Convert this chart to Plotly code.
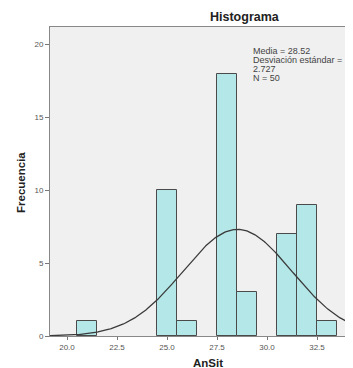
import numpy as np
import plotly.graph_objects as go

# Data
bin_centers = [21, 25, 26, 28, 29, 31, 32, 33]
counts = [1, 10, 1, 18, 3, 7, 9, 1]
bin_width = 1.0
mean_val = 28.52
sd_val = 2.727
n_val = 50
x_tick_vals = [20.0, 22.5, 25.0, 27.5, 30.0, 32.5]
x_tick_text = ["20.0", "22.5", "25.0", "27.5", "30.0", "32.5"]
y_tick_vals = [0, 5, 10, 15, 20]
stats_lines = ["Media = 28.52", "Desviación estándar =", "2.727", "N = 50"]

# Fitted normal curve (from mean/sd/N)
xc = np.linspace(19.15, 34.4, 300)
yc = n_val * bin_width / (sd_val * np.sqrt(2 * np.pi)) * np.exp(-0.5 * ((xc - mean_val) / sd_val) ** 2)

OFF = 8  # default body margin of the page
W, H = 353 - OFF, 368 - OFF
pl, pt, pb = 50 - OFF, 27 - OFF, 32
pw, ph = W - pl, H - pt - pb

def px(x, y):
    return (x - OFF - pl) / pw, 1 - (y - OFF - pt) / ph

fig = go.Figure()
fig.add_trace(go.Bar(
    x=bin_centers, y=counts, width=bin_width,
    marker=dict(color="#b4e7e7", line=dict(color="#4a4a4a", width=1)),
    showlegend=False, hoverinfo="skip"))
fig.add_trace(go.Scatter(
    x=xc, y=yc, mode="lines", line=dict(color="#3a3a3a", width=1.3),
    showlegend=False, hoverinfo="skip"))

anns = []
x, y = px(245, 17)
anns.append(dict(text="<b>Histograma</b>", x=x, y=y, xanchor="center", yanchor="middle",
                 font=dict(size=12.5, color="#222")))
for i, line in enumerate(stats_lines):
    x, y = px(251, 51 + 9 * i)
    anns.append(dict(text=line, x=x, y=y, xanchor="left", yanchor="middle",
                     font=dict(size=9, color="#444")))
x, y = px(21, 182)
anns.append(dict(text="<b>Frecuencia</b>", x=x, y=y, textangle=-90,
                 xanchor="center", yanchor="middle",
                 font=dict(size=11.5, color="#222")))
x, y = px(208, 363)
anns.append(dict(text="<b>AnSit</b>", x=x, y=y, xanchor="center", yanchor="middle",
                 font=dict(size=11.5, color="#222")))
for a in anns:
    a.update(xref="paper", yref="paper", showarrow=False)

fig.update_layout(
    width=W, height=H,
    margin=dict(l=pl, r=0, t=pt, b=pb),
    paper_bgcolor="white", plot_bgcolor="#f0f0f0",
    font=dict(family="Liberation Sans, Arial", size=8, color="#555"),
    bargap=0,
    annotations=anns,
)

fig.update_xaxes(range=[19.15, 34.3], tickvals=x_tick_vals, ticktext=x_tick_text,
                 ticks="outside", ticklen=3, tickcolor="#777", showgrid=False,
                 showline=True, linecolor="#888", linewidth=1, mirror=True,
                 zeroline=False)
fig.update_yaxes(range=[0, 21.2], tickvals=y_tick_vals, ticks="outside", ticklen=4,
                 tickcolor="#777", showgrid=False, showline=True, linecolor="#888",
                 linewidth=1, mirror=True, zeroline=False)

fig.write_html("out.html")
